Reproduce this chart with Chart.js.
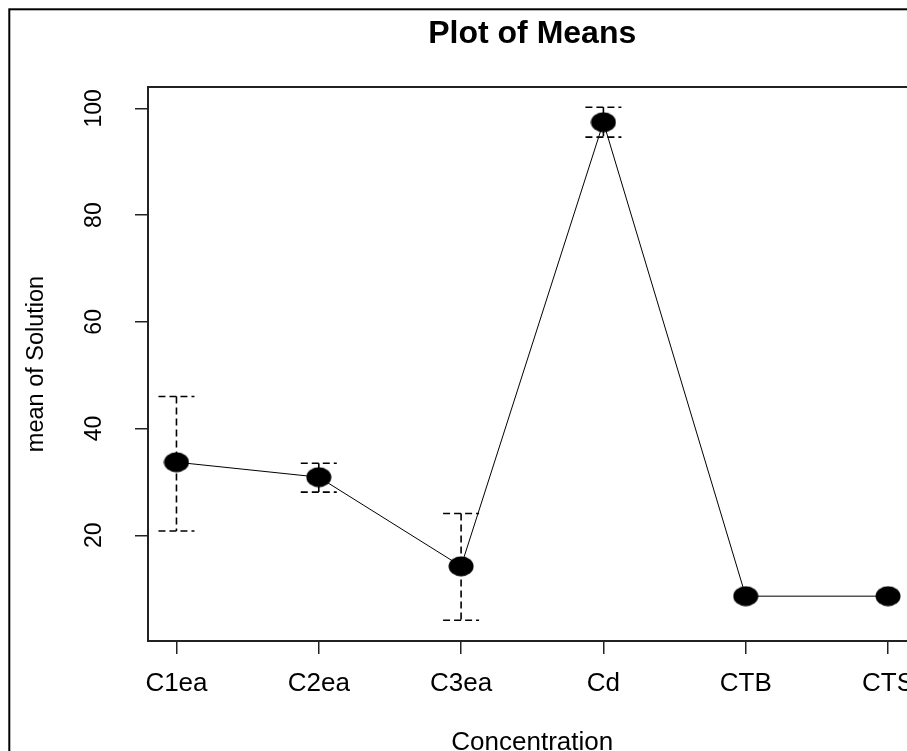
<!DOCTYPE html>
<html>
<head>
<meta charset="utf-8">
<script src="https://cdn.jsdelivr.net/npm/chart.js@4.4.0/dist/chart.umd.min.js"></script>
<style>
  html, body { margin: 0; padding: 0; background: #fff; overflow: hidden; }
  canvas { display: block; }
</style>
</head>
<body>
<canvas id="meansChart" width="950" height="751"></canvas>
<script>
// Plot of means: Solution by Concentration, with confidence bars
const categories = ['C1ea', 'C2ea', 'C3ea', 'Cd', 'CTB', 'CTS'];
const means = [33.7, 30.9, 14.2, 97.4, 8.6, 8.6];
const upperCI = [46.0, 33.5, 24.1, 100.2, null, null];
const lowerCI = [20.8, 28.1, 4.1, 94.6, null, null];
const yTicks = [20, 40, 60, 80, 100];

const family = "'Liberation Sans', Arial, sans-serif";

// filled black dot (slightly wide, like the reference)
const dot = document.createElement('canvas');
dot.width = 26;
dot.height = 21;
const dctx = dot.getContext('2d');
dctx.fillStyle = '#000';
dctx.beginPath();
dctx.ellipse(13, 10.5, 12.5, 10, 0, 0, Math.PI * 2);
dctx.fill();

// dashed error bars with caps
const errorBars = {
    id: 'errorBars',
    beforeDatasetsDraw: function(chart) {
        const ctx = chart.ctx;
        const xs = chart.scales.x;
        const ys = chart.scales.y;
        ctx.save();
        ctx.strokeStyle = '#000';
        ctx.lineWidth = 1.6;
        ctx.setLineDash([7, 4]);
        categories.forEach(function(c, i) {
            if (upperCI[i] == null) return;
            const x = xs.getPixelForValue(i + 1);
            const yU = ys.getPixelForValue(upperCI[i]);
            const yL = ys.getPixelForValue(lowerCI[i]);
            ctx.beginPath();
            ctx.moveTo(x, yU);
            ctx.lineTo(x, yL);
            ctx.moveTo(x - 18, yU);
            ctx.lineTo(x + 18, yU);
            ctx.moveTo(x - 18, yL);
            ctx.lineTo(x + 18, yL);
            ctx.stroke();
        });
        ctx.restore();
    }
};

// outer figure border and plot box
const frame = {
    id: 'frame',
    afterDraw: function(chart) {
        const ctx = chart.ctx;
        const a = chart.chartArea;
        ctx.save();
        ctx.strokeStyle = '#000';
        ctx.lineWidth = 2;
        ctx.strokeRect(9.3, 9.3, 2000, 2000);
        ctx.strokeStyle = '#222';
        ctx.strokeRect(a.left, a.top, a.right - a.left, a.bottom - a.top);
        ctx.restore();
    }
};

const ctx = document.getElementById('meansChart').getContext('2d');
new Chart(ctx, {
    type: 'line',
    data: {
        datasets: [{
            data: means.map(function(m, i) { return { x: i + 1, y: m }; }),
            borderColor: '#000',
            borderWidth: 1,
            pointStyle: dot,
            pointRadius: 12,
            tension: 0,
            fill: false
        }]
    },
    options: {
        responsive: false,
        devicePixelRatio: 1,
        animation: false,
        layout: { padding: { left: 0, right: 33.5, top: 0, bottom: 0 } },
        plugins: {
            legend: { display: false },
            tooltip: { enabled: false },
            title: {
                display: true,
                text: 'Plot of Means',
                fullSize: false,
                color: '#000',
                font: { family: family, size: 32, weight: 'bold', lineHeight: 1.2 },
                padding: { top: 14.5, bottom: 34.1 }
            }
        },
        scales: {
            x: {
                type: 'linear',
                min: 0.8,
                max: 6.2,
                afterBuildTicks: function(s) {
                    s.ticks = categories.map(function(c, i) { return { value: i + 1 }; });
                },
                afterFit: function(s) { s.height = 110; },
                grid: { display: true, drawOnChartArea: false, drawTicks: true, tickLength: 13, color: '#222', lineWidth: 1.5 },
                border: { display: false },
                ticks: {
                    callback: function(v) { return categories[v - 1]; },
                    color: '#000',
                    font: { family: family, size: 26 },
                    padding: 14,
                    autoSkip: false,
                    maxRotation: 0,
                    minRotation: 0
                },
                title: {
                    display: true,
                    text: 'Concentration',
                    color: '#000',
                    font: { family: family, size: 26 },
                    padding: { top: 0, bottom: -7 }
                }
            },
            y: {
                min: 0.2,
                max: 104,
                afterBuildTicks: function(s) {
                    s.ticks = yTicks.map(function(v) { return { value: v }; });
                },
                afterFit: function(s) { s.width = 148; },
                grid: { display: true, drawOnChartArea: false, drawTicks: true, tickLength: 13, color: '#222', lineWidth: 1.5 },
                border: { display: false },
                ticks: {
                    color: '#000',
                    font: { family: family, size: 23 },
                    minRotation: 90,
                    maxRotation: 90,
                    crossAlign: 'center',
                    padding: 21
                },
                title: {
                    display: true,
                    text: 'mean of Solution',
                    color: '#000',
                    font: { family: family, size: 23.5 },
                    padding: { top: 22, bottom: 0 }
                }
            }
        }
    },
    plugins: [errorBars, frame]
});
</script>
</body>
</html>
